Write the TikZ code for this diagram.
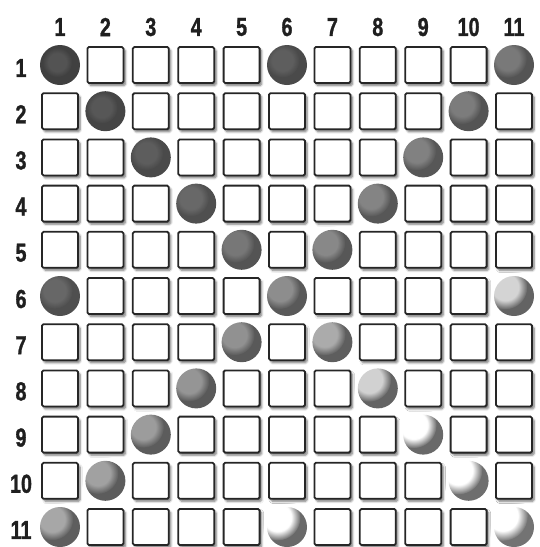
\documentclass[tikz,border=0pt]{standalone}
\usepackage{fontspec}
\setmainfont{Liberation Sans}
\newfontfamily\heavy[FakeBold=1.3]{Liberation Sans Bold}
\usetikzlibrary{fadings,shadows.blur}
\pgfdeclareradialshading{softdiscshade}{\pgfpoint{0bp}{0bp}}{color(0bp)=(white); color(15bp)=(white); color(25bp)=(black); color(50bp)=(black)}
\pgfdeclarefading{softdisc}{\pgfuseshading{softdiscshade}}
\begin{document}
\begin{tikzpicture}[x=1pt,y=-1pt,
  cell/.style={draw=black!85, line width=1.8pt, fill=white, rounded corners=1.5pt,
    minimum size=36pt, inner sep=0pt,
    blur shadow={shadow xshift=2pt, shadow yshift=-2.5pt, shadow blur steps=6, shadow opacity=55}},
  lbl/.style={font=\heavy\fontsize{26}{26}\selectfont, inner sep=0pt, xscale=0.76, text=black!88}]
\useasboundingbox (0,0) rectangle (540,547);
% column and row labels
\foreach \c in {1,...,11}
  \node[lbl] (h\c) at ({60+45.4*(\c-1)}, 27) {\c};
\foreach \r in {1,...,11}
  \node[lbl] (r\r) at (21, {65+46.2*(\r-1)+3}) {\r};
% balls
\foreach \r/\c in {1/1,1/6,1/11,2/2,2/10,3/3,3/9,4/4,4/8,5/5,5/7,6/1,6/6,6/11,7/5,7/7,8/4,8/8,9/3,9/9,10/2,10/10,11/1,11/6,11/11}{
  \pgfmathsetmacro\t{\r+0.7*\c}
  \pgfmathtruncatemacro\dk{78-1.2*\t}
  \pgfmathsetmacro\op{min(1,0.1+0.9*((max(0,\t-2)/13.2)^3))}
  \pgfmathsetmacro\off{2+0.5*\t}
  \pgfmathsetmacro\rr{14+0.6*\t}
  \coordinate (b\r-\c) at ({60+45.4*(\c-1)}, {65+46.2*(\r-1)});
  \fill[black!\dk] (b\r-\c) circle (20);
  \fill[white, path fading=softdisc, fill opacity=\op] ([shift={(-\off,-\off)}]b\r-\c) circle (\rr);
}
% squares
\foreach \r in {1,...,11}{
  \foreach \c in {1,...,11}{
    \pgfmathtruncatemacro\isball{(\c==\r)||(\c==12-\r)||((\r==6)&&((\c==1)||(\c==11)))||((\c==6)&&((\r==1)||(\r==11)))}
    \ifnum\isball=0
      \node[cell] (s\r-\c) at ({60+45.4*(\c-1)}, {65+46.2*(\r-1)}) {};
    \fi
  }
}
\end{tikzpicture}
\end{document}
